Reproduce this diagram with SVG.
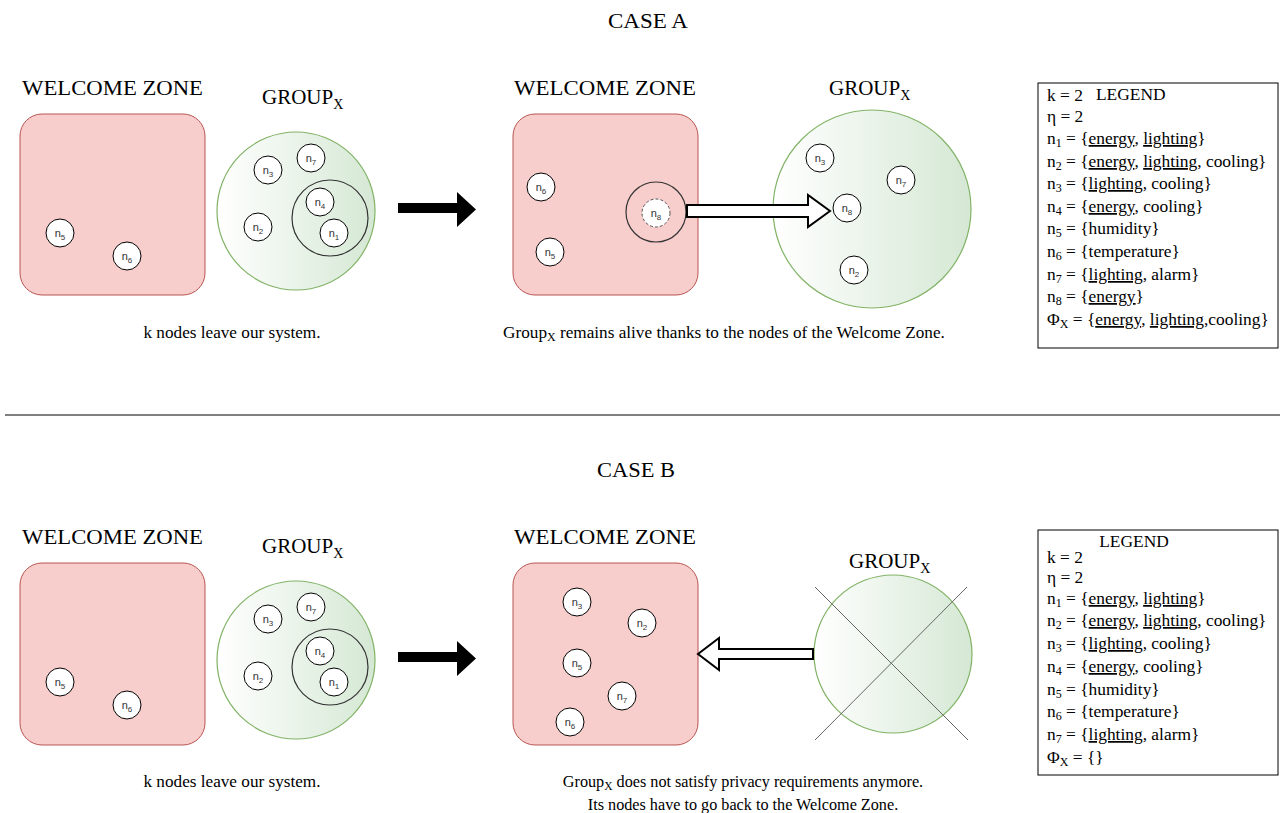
<svg xmlns="http://www.w3.org/2000/svg" width="1280" height="813" viewBox="0 0 1280 813">
<defs>
<linearGradient id="gg" x1="0" y1="0" x2="1" y2="0">
<stop offset="0" stop-color="#ffffff"/>
<stop offset="1" stop-color="#d5e8d4"/>
</linearGradient>
<style>
.t{font-family:"Liberation Serif","Times New Roman",serif;fill:#000}
.title{font-size:21px}
.cap{font-size:17.2px}
.cap2{font-size:16.2px}
.leg{font-size:17.4px}
.u{text-decoration:underline}
.wz{fill:#f8cecc;stroke:#b85450;stroke-width:1}
.grp{fill:url(#gg);stroke:#82b366;stroke-width:1.2}
.nd circle{fill:#fff;stroke:#000;stroke-width:1}
.nd text{font-family:"Liberation Sans",Arial,sans-serif;font-size:11px;fill:#333;text-anchor:middle}
.ring{fill:none;stroke:#333;stroke-width:1.2}
.box{fill:#fff;stroke:#000;stroke-width:1}
.x{stroke:#666;stroke-width:1}
</style>
</defs>
<rect width="1280" height="813" fill="#fff"/>

<!-- Titles -->
<g id="titles">
<text class="t title" x="608" y="28" textLength="80" lengthAdjust="spacingAndGlyphs">CASE A</text>
<text class="t title" x="597" y="477" textLength="78" lengthAdjust="spacingAndGlyphs">CASE B</text>
<line x1="5" y1="415" x2="1280" y2="415" stroke="#000" stroke-width="1"/>
</g>

<!-- ===== CASE A ===== -->
<g id="a-wz1">
<text class="t title" x="22" y="95" textLength="181" lengthAdjust="spacingAndGlyphs">WELCOME ZONE</text>
<rect class="wz" x="20" y="114" width="185" height="181" rx="22"/>
</g>
<g id="a-grp1">
<text class="t" x="262" y="104" font-size="21">GROUP<tspan font-size="14" dy="5">X</tspan></text>
<circle class="grp" cx="296" cy="211" r="79"/>
<circle class="ring" cx="330" cy="218" r="38"/>
</g>
<g id="a-n5" class="nd"><circle cx="60" cy="233" r="14"/><text x="60" y="237">n<tspan font-size="8" dy="3">5</tspan></text></g>
<g id="a-n6" class="nd"><circle cx="127" cy="256" r="14"/><text x="127" y="260">n<tspan font-size="8" dy="3">6</tspan></text></g>
<g id="a-n3" class="nd"><circle cx="268" cy="170" r="14"/><text x="268" y="174">n<tspan font-size="8" dy="3">3</tspan></text></g>
<g id="a-n7" class="nd"><circle cx="311" cy="158" r="14"/><text x="311" y="162">n<tspan font-size="8" dy="3">7</tspan></text></g>
<g id="a-n4" class="nd"><circle cx="320" cy="202" r="14"/><text x="320" y="206">n<tspan font-size="8" dy="3">4</tspan></text></g>
<g id="a-n1" class="nd"><circle cx="334" cy="233" r="14"/><text x="334" y="237">n<tspan font-size="8" dy="3">1</tspan></text></g>
<g id="a-n2" class="nd"><circle cx="258" cy="227" r="14"/><text x="258" y="231">n<tspan font-size="8" dy="3">2</tspan></text></g>
<text class="t cap" x="232" y="338" text-anchor="middle">k nodes leave our system.</text>

<g id="a-wz2">
<text class="t title" x="514" y="95" textLength="182" lengthAdjust="spacingAndGlyphs">WELCOME ZONE</text>
<rect class="wz" x="513" y="114" width="185" height="181" rx="22"/>
<circle class="ring" cx="656" cy="212" r="30"/>
</g>
<g id="a-m-n6" class="nd"><circle cx="541" cy="187" r="14"/><text x="541" y="191">n<tspan font-size="8" dy="3">6</tspan></text></g>
<g id="a-m-n5" class="nd"><circle cx="550" cy="252" r="14"/><text x="550" y="256">n<tspan font-size="8" dy="3">5</tspan></text></g>
<g id="a-m-n8old" class="nd"><circle cx="656" cy="213" r="14" stroke-dasharray="3 2" style="stroke:#555"/><text x="656" y="217">n<tspan font-size="8" dy="3">8</tspan></text></g>
<g id="a-grp2">
<text class="t" x="829" y="95" font-size="21">GROUP<tspan font-size="14" dy="5">X</tspan></text>
<circle class="grp" cx="872" cy="209" r="99"/>
</g>
<g id="a-r-n3" class="nd"><circle cx="820" cy="158" r="14"/><text x="820" y="162">n<tspan font-size="8" dy="3">3</tspan></text></g>
<g id="a-r-n7" class="nd"><circle cx="901" cy="180" r="14"/><text x="901" y="184">n<tspan font-size="8" dy="3">7</tspan></text></g>
<g id="a-r-n8" class="nd"><circle cx="847" cy="208" r="14"/><text x="847" y="212">n<tspan font-size="8" dy="3">8</tspan></text></g>
<g id="a-r-n2" class="nd"><circle cx="854" cy="270" r="14"/><text x="854" y="274">n<tspan font-size="8" dy="3">2</tspan></text></g>
<text class="t cap" x="724" y="338" text-anchor="middle">Group<tspan font-size="12" dy="3">X</tspan><tspan dy="-3"> remains alive thanks to the nodes of the Welcome Zone.</tspan></text>

<g id="legend-a">
<rect class="box" x="1038" y="83" width="240" height="265"/>
<text class="t leg" x="1096" y="100">LEGEND</text>
<text class="t leg" x="1047" y="101">k = 2</text>
<text class="t leg" x="1047" y="122">η = 2</text>
<text class="t leg" x="1047" y="144">n<tspan font-size="12" dy="3">1</tspan><tspan dy="-3"> = {</tspan><tspan class="u">energy</tspan>, <tspan class="u">lighting</tspan>}</text>
<text class="t leg" x="1047" y="167">n<tspan font-size="12" dy="3">2</tspan><tspan dy="-3"> = {</tspan><tspan class="u">energy</tspan>, <tspan class="u">lighting</tspan>, cooling}</text>
<text class="t leg" x="1047" y="189">n<tspan font-size="12" dy="3">3</tspan><tspan dy="-3"> = {</tspan><tspan class="u">lighting</tspan>, cooling}</text>
<text class="t leg" x="1047" y="212">n<tspan font-size="12" dy="3">4</tspan><tspan dy="-3"> = {</tspan><tspan class="u">energy</tspan>, cooling}</text>
<text class="t leg" x="1047" y="234">n<tspan font-size="12" dy="3">5</tspan><tspan dy="-3"> = {humidity}</tspan></text>
<text class="t leg" x="1047" y="257">n<tspan font-size="12" dy="3">6</tspan><tspan dy="-3"> = {temperature}</tspan></text>
<text class="t leg" x="1047" y="280">n<tspan font-size="12" dy="3">7</tspan><tspan dy="-3"> = {</tspan><tspan class="u">lighting</tspan>, alarm}</text>
<text class="t leg" x="1047" y="302">n<tspan font-size="12" dy="3">8</tspan><tspan dy="-3"> = {</tspan><tspan class="u">energy</tspan>}</text>
<text class="t leg" x="1047" y="325">Φ<tspan font-size="12" dy="3">X</tspan><tspan dy="-3"> = {</tspan><tspan class="u">energy</tspan>, <tspan class="u">lighting</tspan>,cooling}</text>
</g>

<!-- ===== CASE B ===== -->
<g id="b-wz1">
<text class="t title" x="22" y="544" textLength="181" lengthAdjust="spacingAndGlyphs">WELCOME ZONE</text>
<rect class="wz" x="20" y="563" width="185" height="182" rx="22"/>
</g>
<g id="b-grp1">
<text class="t" x="262" y="553" font-size="21">GROUP<tspan font-size="14" dy="5">X</tspan></text>
<circle class="grp" cx="296" cy="660" r="79"/>
<circle class="ring" cx="330" cy="667" r="38"/>
</g>
<g id="b-n5" class="nd"><circle cx="60" cy="682" r="14"/><text x="60" y="686">n<tspan font-size="8" dy="3">5</tspan></text></g>
<g id="b-n6" class="nd"><circle cx="127" cy="705" r="14"/><text x="127" y="709">n<tspan font-size="8" dy="3">6</tspan></text></g>
<g id="b-n3" class="nd"><circle cx="268" cy="619" r="14"/><text x="268" y="623">n<tspan font-size="8" dy="3">3</tspan></text></g>
<g id="b-n7" class="nd"><circle cx="311" cy="607" r="14"/><text x="311" y="611">n<tspan font-size="8" dy="3">7</tspan></text></g>
<g id="b-n4" class="nd"><circle cx="320" cy="651" r="14"/><text x="320" y="655">n<tspan font-size="8" dy="3">4</tspan></text></g>
<g id="b-n1" class="nd"><circle cx="334" cy="682" r="14"/><text x="334" y="686">n<tspan font-size="8" dy="3">1</tspan></text></g>
<g id="b-n2" class="nd"><circle cx="258" cy="676" r="14"/><text x="258" y="680">n<tspan font-size="8" dy="3">2</tspan></text></g>
<text class="t cap" x="232" y="787" text-anchor="middle">k nodes leave our system.</text>

<g id="b-wz2">
<text class="t title" x="514" y="544" textLength="182" lengthAdjust="spacingAndGlyphs">WELCOME ZONE</text>
<rect class="wz" x="513" y="563" width="185" height="182" rx="22"/>
</g>
<g id="b-m-n3" class="nd"><circle cx="577" cy="602" r="14"/><text x="577" y="606">n<tspan font-size="8" dy="3">3</tspan></text></g>
<g id="b-m-n2" class="nd"><circle cx="642" cy="623" r="14"/><text x="642" y="627">n<tspan font-size="8" dy="3">2</tspan></text></g>
<g id="b-m-n5" class="nd"><circle cx="577" cy="663" r="14"/><text x="577" y="667">n<tspan font-size="8" dy="3">5</tspan></text></g>
<g id="b-m-n7" class="nd"><circle cx="622" cy="696" r="14"/><text x="622" y="700">n<tspan font-size="8" dy="3">7</tspan></text></g>
<g id="b-m-n6" class="nd"><circle cx="570" cy="722" r="14"/><text x="570" y="726">n<tspan font-size="8" dy="3">6</tspan></text></g>
<g id="b-grp2">
<text class="t" x="849" y="568" font-size="21">GROUP<tspan font-size="14" dy="5">X</tspan></text>
<circle class="grp" cx="893" cy="654" r="79"/>
<line class="x" x1="815" y1="587" x2="968" y2="740"/>
<line class="x" x1="967" y1="587" x2="815" y2="740"/>
</g>
<text class="t cap2" x="743" y="787" text-anchor="middle">Group<tspan font-size="11.5" dy="3">X</tspan><tspan dy="-3"> does not satisfy privacy requirements anymore.</tspan></text>
<text class="t cap2" x="743" y="810" text-anchor="middle">Its nodes have to go back to the Welcome Zone.</text>

<g id="legend-b">
<rect class="box" x="1038" y="530" width="240" height="245"/>
<text class="t leg" x="1134" y="547" text-anchor="middle">LEGEND</text>
<text class="t leg" x="1047" y="563">k = 2</text>
<text class="t leg" x="1047" y="583">η = 2</text>
<text class="t leg" x="1047" y="604">n<tspan font-size="12" dy="3">1</tspan><tspan dy="-3"> = {</tspan><tspan class="u">energy</tspan>, <tspan class="u">lighting</tspan>}</text>
<text class="t leg" x="1047" y="626">n<tspan font-size="12" dy="3">2</tspan><tspan dy="-3"> = {</tspan><tspan class="u">energy</tspan>, <tspan class="u">lighting</tspan>, cooling}</text>
<text class="t leg" x="1047" y="649">n<tspan font-size="12" dy="3">3</tspan><tspan dy="-3"> = {</tspan><tspan class="u">lighting</tspan>, cooling}</text>
<text class="t leg" x="1047" y="672">n<tspan font-size="12" dy="3">4</tspan><tspan dy="-3"> = {</tspan><tspan class="u">energy</tspan>, cooling}</text>
<text class="t leg" x="1047" y="695">n<tspan font-size="12" dy="3">5</tspan><tspan dy="-3"> = {humidity}</tspan></text>
<text class="t leg" x="1047" y="717">n<tspan font-size="12" dy="3">6</tspan><tspan dy="-3"> = {temperature}</tspan></text>
<text class="t leg" x="1047" y="740">n<tspan font-size="12" dy="3">7</tspan><tspan dy="-3"> = {</tspan><tspan class="u">lighting</tspan>, alarm}</text>
<text class="t leg" x="1047" y="763">Φ<tspan font-size="12" dy="3">X</tspan><tspan dy="-3"> = {}</tspan></text>
</g>

<!-- Connectors -->
<g id="connectors">
<polygon points="398,203 457,203 457,192 476,209.5 457,227 457,213 398,213" fill="#000"/>
<polygon points="398,652 457,652 457,641 476,658.5 457,676 457,662 398,662" fill="#000"/>
<polygon points="687,205 808,205 808,195 830,211 808,227 808,217 687,217" fill="#fff" stroke="#000" stroke-width="2" stroke-linejoin="miter"/>
<polygon points="813,649 719,649 719,638 698,654 719,670 719,659 813,659" fill="#fff" stroke="#000" stroke-width="2" stroke-linejoin="miter"/>
</g>
</svg>
